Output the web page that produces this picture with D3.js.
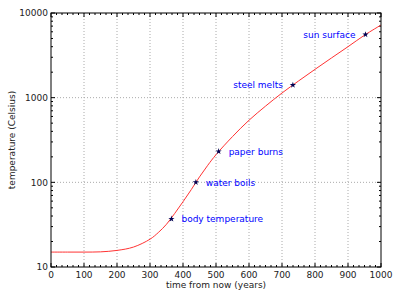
<!DOCTYPE html>
<html>
<head>
<meta charset="utf-8">
<script src="https://cdn.jsdelivr.net/npm/d3@7"></script>
<style>
  body { margin: 0; background: #fff; }
  text { font-family: "DejaVu Sans", sans-serif; }
</style>
</head>
<body>
<div id="chart"></div>
<script>
// curve (years from now, degrees Celsius)
const years = [0, 50, 100, 150, 200, 250, 300, 325, 350, 375, 400, 425, 450, 475, 500,
  550, 600, 650, 700, 750, 800, 850, 900, 950, 1000];
const temps = [15, 15, 15, 15.1, 15.7, 17.2, 21.3, 25.5, 32, 43, 59, 82, 116, 159, 212,
  347, 541, 794, 1135, 1574, 2160, 2946, 4000, 5470, 7210];

const markYears = [365, 439, 508, 733, 953];
const markTemps = [37, 100, 232, 1410, 5570];
const markLabels = ['body temperature', 'water boils', 'paper burns', 'steel melts', 'sun surface'];
const markSide = [1, 1, 1, -1, -1];

const xTicks = [0, 100, 200, 300, 400, 500, 600, 700, 800, 900, 1000];
const yTicks = [10, 100, 1000, 10000];

const margin = { top: 13, right: 17, bottom: 25, left: 51 };
const width = 398 - margin.left - margin.right;
const height = 292 - margin.top - margin.bottom;

const svg = d3.select('#chart')
  .append('svg')
  .attr('width', 398)
  .attr('height', 292)
  .append('g')
  .attr('transform', 'translate(' + margin.left + ',' + margin.top + ')');

const x = d3.scaleLinear().domain([0, 1000]).range([0, width]);
const y = d3.scaleLog().domain([10, 10000]).range([height, 0]);

// grid
svg.append('g')
  .selectAll('line')
  .data(xTicks.slice(1, -1))
  .join('line')
  .attr('x1', d => x(d)).attr('x2', d => x(d))
  .attr('y1', 0).attr('y2', height)
  .attr('stroke', '#aaa').attr('stroke-dasharray', '1,2');

svg.append('g')
  .selectAll('line')
  .data(yTicks.slice(1, -1))
  .join('line')
  .attr('y1', d => y(d)).attr('y2', d => y(d))
  .attr('x1', 0).attr('x2', width)
  .attr('stroke', '#aaa').attr('stroke-dasharray', '1,2');

// minor ticks
const xMinor = d3.range(0, 1000, 100 / 6).filter(d => Math.abs(d % 100) > 1);
const yMinor = [];
[10, 100, 1000].forEach(b => d3.range(2, 10).forEach(k => yMinor.push(b * k)));

const tk = svg.append('g').attr('stroke', '#000').attr('stroke-width', 1);
xMinor.forEach(d => {
  tk.append('line').attr('x1', x(d)).attr('x2', x(d)).attr('y1', height).attr('y2', height - 2);
  tk.append('line').attr('x1', x(d)).attr('x2', x(d)).attr('y1', 0).attr('y2', 2);
});
xTicks.forEach(d => {
  tk.append('line').attr('x1', x(d)).attr('x2', x(d)).attr('y1', height).attr('y2', height - 4);
  tk.append('line').attr('x1', x(d)).attr('x2', x(d)).attr('y1', 0).attr('y2', 4);
});
yMinor.forEach(d => {
  tk.append('line').attr('y1', y(d)).attr('y2', y(d)).attr('x1', 0).attr('x2', 2);
  tk.append('line').attr('y1', y(d)).attr('y2', y(d)).attr('x1', width).attr('x2', width - 2);
});
yTicks.forEach(d => {
  tk.append('line').attr('y1', y(d)).attr('y2', y(d)).attr('x1', 0).attr('x2', 4);
  tk.append('line').attr('y1', y(d)).attr('y2', y(d)).attr('x1', width).attr('x2', width - 4);
});

// tick labels
svg.append('g')
  .selectAll('text')
  .data(xTicks)
  .join('text')
  .attr('x', d => x(d))
  .attr('y', height + 11)
  .attr('text-anchor', 'middle')
  .attr('font-size', 9)
  .attr('fill', '#222')
  .text(d => d);

svg.append('g')
  .selectAll('text')
  .data(yTicks)
  .join('text')
  .attr('x', -3)
  .attr('y', d => y(d) + 3.2)
  .attr('text-anchor', 'end')
  .attr('font-size', 9)
  .attr('fill', '#222')
  .text(d => d);

// axis titles
svg.append('text')
  .attr('x', width / 2)
  .attr('y', height + 21)
  .attr('text-anchor', 'middle')
  .attr('font-size', 9)
  .attr('fill', '#222')
  .text('time from now (years)');

svg.append('text')
  .attr('transform', 'translate(' + (-36) + ',' + (height / 2) + ') rotate(-90)')
  .attr('text-anchor', 'middle')
  .attr('font-size', 9)
  .attr('fill', '#222')
  .text('temperature (Celsius)');

// curve
const line = d3.line()
  .x((d, i) => x(years[i]))
  .y(d => y(d))
  .curve(d3.curveCatmullRom);

svg.append('path')
  .datum(temps)
  .attr('fill', 'none')
  .attr('stroke', '#f33')
  .attr('stroke-width', 1)
  .attr('d', line);

// markers and labels
const marks = markYears.map((t, i) => ({ t, v: markTemps[i], label: markLabels[i], side: markSide[i] }));

svg.append('g')
  .selectAll('path')
  .data(marks)
  .join('path')
  .attr('transform', d => 'translate(' + x(d.t) + ',' + y(d.v) + ')')
  .attr('d', d3.symbol(d3.symbolStar, 12))
  .attr('fill', '#000050');

svg.append('g')
  .selectAll('text')
  .data(marks)
  .join('text')
  .attr('x', d => x(d.t) + 10 * d.side)
  .attr('y', d => y(d.v) + 3.3)
  .attr('text-anchor', d => d.side > 0 ? 'start' : 'end')
  .attr('font-size', 9)
  .attr('fill', '#0000ff')
  .text(d => d.label);

// frame
svg.append('rect')
  .attr('width', width)
  .attr('height', height)
  .attr('fill', 'none')
  .attr('stroke', '#000')
  .attr('stroke-width', 1);
</script>
</body>
</html>
